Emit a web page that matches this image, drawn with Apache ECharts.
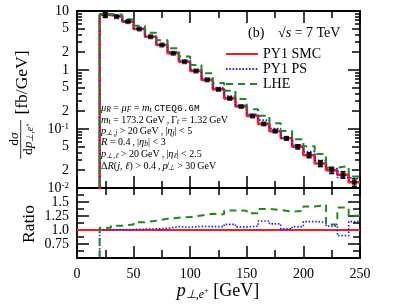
<!DOCTYPE html>
<html><head><meta charset="utf-8">
<script src="https://cdn.jsdelivr.net/npm/echarts@6/dist/echarts.min.js"></script>
<style>html,body{margin:0;padding:0;background:#fff}#c{width:407px;height:308px}</style>
</head><body><div id="c"></div>
<script>
// ---- data (bins of 10 GeV, lower edges) ----
const binLo = [20,30,40,50,60,70,80,90,100,110,120,130,140,150,160,170,180,190,200,210,220,230,240];
const binW = 10;
const smcVals = [8.55,8.0,6.6,4.95,3.66,2.65,1.92,1.38,0.96,0.68,0.47,0.33,0.24,0.166,0.122,0.092,0.0695,0.050,0.036,0.026,0.020,0.0168,0.0125];
const smcErr  = [0.8,0.12,0.1,0.07,0.05,0.04,0.03,0.025,0.018,0.013,0.01,0.008,0.006,0.005,0.005,0.0045,0.004,0.004,0.0035,0.003,0.0025,0.0022,0.0018];
const psVals  = [8.64,8.08,6.67,5.02,3.73,2.73,2.04,1.45,1.02,0.72,0.498,0.363,0.253,0.178,0.1415,0.102,0.0709,0.053,0.0414,0.0296,0.0214,0.0151,0.0144];
const lheVals = [8.89,8.62,7.26,5.63,4.27,3.18,2.34,1.70,1.21,0.877,0.602,0.446,0.323,0.216,0.168,0.125,0.0924,0.067,0.0511,0.0376,0.022,0.0235,0.0157];
const ratioSMC = [1,1,1,1,1,1,1,1,1,1,1,1,1,1,1,1,1,1,1,1,1,1,1,1,1];
const ratioSMCLo = [0,10,20,30,40,50,60,70,80,90,100,110,120,130,140,150,160,170,180,190,200,210,220,230,240];
const ratioPS  = [1.01,1.01,1.01,1.015,1.02,1.03,1.06,1.05,1.065,1.06,1.06,1.10,1.055,1.07,1.16,1.11,1.02,1.06,1.15,1.14,1.07,0.90,1.15];
const ratioLHE = [1.04,1.077,1.10,1.137,1.166,1.20,1.22,1.23,1.26,1.29,1.28,1.35,1.345,1.30,1.375,1.357,1.33,1.34,1.42,1.446,1.10,1.40,1.255];
// ---- ticks ----
const xTickLabels = [0,50,100,150,200,250];
const yMajor = [0.01,0.1,1,10];
const yMid = [0.02,0.05,0.2,0.5,2,5];
const yMinor = [0.03,0.04,0.06,0.07,0.08,0.09,0.3,0.4,0.6,0.7,0.8,0.9,3,4,6,7,8,9];
const yLabelVals = [10,5,2,1,0.5,0.2,0.1,0.05,0.02,0.01];
const yLabelText = ['10','5','2','1','5','2','10{sup|-1}','5','2','10{sup|-2}'];
const rLabelVals = [0.75,1,1.25,1.5];
const rLabelText = ['0.75','1.0','1.25','1.5'];

const SERIF = 'Liberation Serif';
const RED = '#ff1a1a', BLUE = '#1a1aff', GREEN = '#1e8a1e';

function steps(lo, vals, start) {
  const pts = [];
  if (start !== undefined) pts.push([lo[0], start]);
  vals.forEach((v, i) => { pts.push([lo[i], v]); pts.push([lo[i] + binW, v]); });
  return pts;
}

function logY(grid, pos, ticks, len, line, labels) {
  return {
    type: 'log', logBase: 10, gridIndex: grid, position: pos, min: 0.01, max: 10,
    axisLine: {show: line, lineStyle: {color: '#000', width: 1.8}},
    axisTick: {show: true, inside: true, length: len, customValues: ticks, lineStyle: {color: '#000', width: 1.5}},
    axisLabel: labels ? {
      show: true, customValues: yLabelVals, margin: 8, color: '#000', fontFamily: SERIF, fontSize: 14,
      formatter: v => { const i = yLabelVals.findIndex(t => Math.abs(t - v) / t < 1e-6); return i >= 0 ? yLabelText[i] : ''; },
      rich: {sup: {fontSize: 9, fontFamily: SERIF, verticalAlign: 'top', color: '#000'}}
    } : {show: false},
    splitLine: {show: false}, minorTick: {show: false}, minorSplitLine: {show: false}
  };
}
function xAx(grid, pos, len, minLen, labels) {
  return {
    type: 'value', gridIndex: grid, position: pos, min: 0, max: 250, interval: 50,
    axisLine: {show: true, onZero: false, lineStyle: {color: '#000', width: 1.8}},
    axisTick: {show: true, inside: true, length: len, lineStyle: {color: '#000', width: 1.5}},
    minorTick: {show: true, splitNumber: 2, length: minLen, lineStyle: {color: '#000', width: 1.5}},
    axisLabel: labels ? {show: true, margin: 9, color: '#000', fontFamily: SERIF, fontSize: 14} : {show: false},
    splitLine: {show: false}
  };
}
function rY(pos, labels) {
  return {
    type: 'value', gridIndex: 1, position: pos, min: 0.5, max: 1.75, interval: 0.25,
    axisLine: {show: true, onZero: false, lineStyle: {color: '#000', width: 1.8}},
    axisTick: {show: true, inside: true, length: 12, lineStyle: {color: '#000', width: 1.5}},
    minorTick: {show: true, splitNumber: 2, length: 7, lineStyle: {color: '#000', width: 1.5}},
    axisLabel: labels ? {
      show: true, customValues: rLabelVals, margin: 8, color: '#000', fontFamily: SERIF, fontSize: 14,
      formatter: v => { const i = rLabelVals.findIndex(t => Math.abs(t - v) < 1e-6); return i >= 0 ? rLabelText[i] : ''; }
    } : {show: false},
    splitLine: {show: false}
  };
}

const chart = echarts.init(document.getElementById('c'), null, {renderer: 'canvas'});
const ann = {fontFamily: SERIF, fontSize: 10, color: '#222'};
const annRich = {
  t: {fontFamily: SERIF, fontSize: 10, color: '#222', verticalAlign: 'middle', lineHeight: 13},
  i: {fontFamily: SERIF, fontStyle: 'italic', fontSize: 10.5, color: '#222', verticalAlign: 'middle', lineHeight: 13},
  s: {fontFamily: SERIF, fontStyle: 'italic', fontSize: 7.5, color: '#222', verticalAlign: 'bottom', lineHeight: 8},
  tt: {fontFamily: 'Liberation Mono', fontSize: 9.5, color: '#222', verticalAlign: 'middle', lineHeight: 13}
};
const annLines = [
  '{i|μ}{s|R}{t| = }{i|μ}{s|F}{t| = }{i|m}{s|t}{t| }{tt|CTEQ6.6M}',
  '{i|m}{s|t}{t| = 173.2\u2009GeV\u2009,\u2009Γ}{s|t}{t| = 1.32\u2009GeV}',
  '{i|p}{s|⊥,j}{t| > 20\u2009GeV\u2009,\u2009|}{i|η}{s|j}{t|| < 5}',
  '{i|R}{t| = 0.4\u2009,\u2009|}{i|η}{s|b}{t|| < 3}',
  '{i|p}{s|⊥,ℓ}{t| > 20\u2009GeV\u2009,\u2009|}{i|η}{s|ℓ}{t|| < 2.5}',
  '{t|Δ}{i|R}{t|(}{i|j}{t|, }{i|ℓ}{t|) > 0.4\u2009,\u2009}{i|p̸}{s|⊥}{t| > 30\u2009GeV}'
];
const annY = [108, 120, 131, 142, 154, 166];

const graphics = annLines.map((txt, k) => ({
  type: 'text', x: 101, y: annY[k], z: 10,
  style: Object.assign({text: txt, rich: annRich, textAlign: 'left', textVerticalAlign: 'middle'}, ann)
}));
graphics.push(
  {type: 'text', x: 248, y: 33, style: {text: '(b)', fontFamily: SERIF, fontSize: 14, fill: '#000', textAlign: 'left', textVerticalAlign: 'middle'}},
  {type: 'text', x: 278, y: 33, style: {text: '√{i|s} = 7 TeV', fontFamily: SERIF, fontSize: 14, fill: '#000', textAlign: 'left', textVerticalAlign: 'middle',
    rich: {i: {fontFamily: SERIF, fontStyle: 'italic', fontSize: 14, color: '#000'}}}},
  // x axis title
  {type: 'text', x: 218, y: 291, style: {text: '{i|p}{s|⊥,e}{p|+}{t| [GeV]}', textAlign: 'center', textVerticalAlign: 'middle',
    rich: {
      i: {fontFamily: SERIF, fontStyle: 'italic', fontSize: 18, color: '#000', verticalAlign: 'middle', lineHeight: 20},
      s: {fontFamily: SERIF, fontStyle: 'italic', fontSize: 12, color: '#000', verticalAlign: 'bottom', lineHeight: 10},
      p: {fontFamily: SERIF, fontSize: 8.5, color: '#000', verticalAlign: 'middle', lineHeight: 8},
      t: {fontFamily: SERIF, fontSize: 18, color: '#000', verticalAlign: 'middle', lineHeight: 20}
    }}},
  // Ratio label
  {type: 'text', x: 29, y: 224, rotation: Math.PI / 2, style: {text: 'Ratio', fontFamily: SERIF, fontSize: 17.5, fill: '#000', textAlign: 'center', textVerticalAlign: 'middle'}},
  // y label
  {type: 'text', x: 22.5, y: 82.5, rotation: Math.PI / 2, style: {text: '[fb/GeV]', fontFamily: SERIF, fontSize: 17.5, fill: '#000', textAlign: 'center', textVerticalAlign: 'middle'}},
  {type: 'text', x: 14.5, y: 139, rotation: Math.PI / 2, style: {text: 'd{i|σ}', fontFamily: SERIF, fontSize: 13.5, fill: '#000', textAlign: 'center', textVerticalAlign: 'middle',
    rich: {i: {fontFamily: SERIF, fontStyle: 'italic', fontSize: 13.5, color: '#000'}}}},
  {type: 'line', shape: {x1: 20.7, y1: 120, x2: 20.7, y2: 159}, style: {stroke: '#000', lineWidth: 0.8}},
  {type: 'text', x: 28, y: 139, rotation: Math.PI / 2, style: {text: '{t|d}{i|p}{s|⊥,e}{p|+}', textAlign: 'center', textVerticalAlign: 'middle',
    rich: {
      t: {fontFamily: SERIF, fontSize: 13.5, color: '#000', verticalAlign: 'middle', lineHeight: 14},
      i: {fontFamily: SERIF, fontStyle: 'italic', fontSize: 13.5, color: '#000', verticalAlign: 'middle', lineHeight: 14},
      s: {fontFamily: SERIF, fontStyle: 'italic', fontSize: 9.5, color: '#000', verticalAlign: 'bottom', lineHeight: 8},
      p: {fontFamily: SERIF, fontSize: 7, color: '#000', verticalAlign: 'middle', lineHeight: 7}
    }}}
);

const option = {
  animation: false,
  backgroundColor: '#fff',
  grid: [
    {left: 77, right: 47, top: 11, height: 177, outerBoundsMode: 'none', containLabel: false},
    {left: 77, right: 47, top: 188, height: 70, outerBoundsMode: 'none', containLabel: false}
  ],
  xAxis: [xAx(0, 'bottom', 12, 7, false), xAx(0, 'top', 12, 7, false), xAx(1, 'bottom', 12, 8, true), xAx(1, 'top', 7, 7, false)],
  yAxis: [
    logY(0, 'left', yMajor, 12, true, true), logY(0, 'left', yMid, 8, false, false), logY(0, 'left', yMinor, 5, false, false),
    logY(0, 'right', yMajor, 12, true, false), logY(0, 'right', yMid, 8, false, false), logY(0, 'right', yMinor, 5, false, false),
    rY('left', true), rY('right', false)
  ],
  legend: {
    data: ['PY1 SMC', 'PY1 PS', 'LHE'], orient: 'vertical', left: 220, top: 42,
    itemWidth: 32, itemHeight: 10, itemGap: 1, selectedMode: false,
    itemStyle: {opacity: 0},
    textStyle: {fontFamily: SERIF, fontSize: 14, color: '#000', lineHeight: 14}
  },
  graphic: graphics,
  series: [
    {name: 'PY1 SMC', type: 'line', xAxisIndex: 0, yAxisIndex: 0, symbol: 'none', clip: true, z: 2,
      data: steps(binLo, smcVals, 0.0001), lineStyle: {color: RED, width: 2.6}, itemStyle: {color: RED}},
    {name: 'PY1 PS', type: 'line', xAxisIndex: 0, yAxisIndex: 0, symbol: 'none', clip: true, z: 3,
      data: steps(binLo, psVals, 0.0001), lineStyle: {color: BLUE, width: 1.6, type: [1.5, 1.8]}, itemStyle: {color: BLUE}},
    {name: 'LHE', type: 'line', xAxisIndex: 0, yAxisIndex: 0, symbol: 'none', clip: true, z: 4,
      data: steps(binLo, lheVals, 0.0001), lineStyle: {color: GREEN, width: 2, type: [7, 5]}, itemStyle: {color: GREEN}},
    {name: 'err', type: 'custom', xAxisIndex: 0, yAxisIndex: 0, clip: true, z: 5,
      data: binLo.map((b, i) => [b + binW / 2, smcVals[i], smcVals[i] - smcErr[i], smcVals[i] + smcErr[i]]),
      encode: {x: 0, y: 1},
      renderItem: (params, api) => {
        const x = api.value(0);
        const a = api.coord([x, api.value(2)]), b = api.coord([x, api.value(3)]);
        const st = {stroke: '#000', lineWidth: 1.3};
        return {type: 'group', children: [
          {type: 'line', shape: {x1: a[0], y1: a[1], x2: b[0], y2: b[1]}, style: st},
          {type: 'line', shape: {x1: a[0] - 2.5, y1: a[1], x2: a[0] + 2.5, y2: a[1]}, style: st},
          {type: 'line', shape: {x1: b[0] - 2.5, y1: b[1], x2: b[0] + 2.5, y2: b[1]}, style: st}
        ]};
      }},
    {name: 'pts', type: 'scatter', xAxisIndex: 0, yAxisIndex: 0, symbol: 'rect', symbolSize: 5, z: 6,
      data: binLo.map((b, i) => [b + binW / 2, smcVals[i]]), itemStyle: {color: '#000'}},
    {name: 'r SMC', type: 'line', xAxisIndex: 2, yAxisIndex: 6, symbol: 'none', clip: true, z: 2,
      data: steps(ratioSMCLo, ratioSMC), lineStyle: {color: RED, width: 2}},
    {name: 'r PS', type: 'line', xAxisIndex: 2, yAxisIndex: 6, symbol: 'none', clip: true, z: 3,
      data: steps(binLo, ratioPS, 0.3), lineStyle: {color: BLUE, width: 1.6, type: [1.5, 1.8]}},
    {name: 'r LHE', type: 'line', xAxisIndex: 2, yAxisIndex: 6, symbol: 'none', clip: true, z: 4,
      data: steps(binLo, ratioLHE, 0.3), lineStyle: {color: GREEN, width: 2, type: [7, 5]}}
  ]
};
chart.setOption(option);
</script></body></html>
